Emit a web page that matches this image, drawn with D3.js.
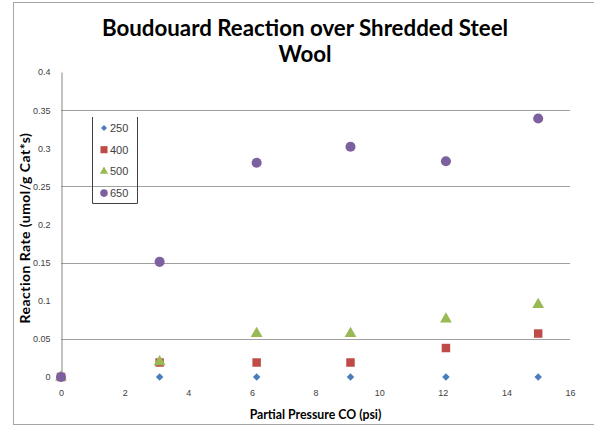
<!DOCTYPE html>
<meta charset="utf-8">
<style>
  body { margin: 0; background: #fff; }
  .tick text { font: 9px "Liberation Sans", sans-serif; fill: #404040; }
  .title { font: bold 22.3px Lato, sans-serif; fill: #000; }
  .axis-title { font: bold 12.3px Lato, sans-serif; fill: #000; }
  .axis-title.y { font-size: 14px; letter-spacing: 0.45px; }
  .legend text { font: 11px "Liberation Sans", sans-serif; fill: #404040; }
</style>
<body>
<script src="https://d3js.org/d3.v7.min.js"></script>
<script>

  // Partial pressure CO (psi)
  var pressure = [0, 3.1, 6.15, 9.1, 12.1, 15];

  // reaction rate per temperature series
  var rate250 = [0, 0, 0, 0, 0, 0];
  var rate400 = [0, 0.019, 0.019, 0.019, 0.038, 0.057];
  var rate500 = [0, 0.020, 0.057, 0.057, 0.076, 0.095];
  var rate650 = [0, 0.151, 0.281, 0.302, 0.283, 0.339];

  var seriesNames = ["250", "400", "500", "650"];
  var xTicks = [0, 2, 4, 6, 8, 10, 12, 14, 16];
  var yTicks = [0, 0.05, 0.1, 0.15, 0.2, 0.25, 0.3, 0.35, 0.4];
  var gridValues = [0.05, 0.15, 0.25, 0.35];

  var series = [
    {name: seriesNames[0], values: rate250, color: "#4a7ebb", shape: "diamond"},
    {name: seriesNames[1], values: rate400, color: "#be4b48", shape: "square"},
    {name: seriesNames[2], values: rate500, color: "#98b954", shape: "triangle"},
    {name: seriesNames[3], values: rate650, color: "#7d60a0", shape: "circle"}
  ];

  var width = 594, height = 427;

  var x = d3.scaleLinear().domain([0, 16]).range([61, 570]);
  var y = d3.scaleLinear().domain([0, 0.4]).range([377, 72]);

  var svg = d3.select("body").append("svg")
      .attr("width", width)
      .attr("height", height);

  // outer chart border
  svg.append("rect")
      .attr("x", 13.5).attr("y", 2.5)
      .attr("width", 600).attr("height", 422)
      .attr("fill", "none")
      .attr("stroke", "#a6a6a6");

  // gridlines
  svg.append("g").selectAll("line")
      .data(gridValues)
    .enter().append("line")
      .attr("x1", x(0)).attr("x2", x(16))
      .attr("y1", function(d) { return Math.round(y(d)) + 0.5; })
      .attr("y2", function(d) { return Math.round(y(d)) + 0.5; })
      .attr("stroke", "#a0a0a0");

  var yAxis = svg.append("g")
      .attr("transform", "translate(" + (x(0) + 0.5) + ",0)")
      .call(d3.axisLeft(y).tickValues(yTicks).tickSize(0).tickPadding(11)
        .tickFormat(d3.format(".2~f")));
  yAxis.select(".domain").attr("stroke", "#868686");

  var xAxis = svg.append("g")
      .attr("transform", "translate(0," + y(0) + ")")
      .call(d3.axisBottom(x).tickValues(xTicks).tickSize(0).tickPadding(13));
  xAxis.select(".domain").remove();

  // diamonds are squares turned 45 degrees
  var symbols = {
    diamond: d3.symbol().type(d3.symbolSquare).size(28),
    square: d3.symbol().type(d3.symbolSquare).size(72),
    triangle: d3.symbol().type(d3.symbolTriangle).size(60),
    circle: d3.symbol().type(d3.symbolCircle).size(80)
  };

  series.forEach(function(s) {
    svg.append("g").selectAll("path")
        .data(s.values)
      .enter().append("path")
        .attr("d", symbols[s.shape]())
        .attr("transform", function(d, i) {
          return "translate(" + x(pressure[i]) + "," + y(d) + ")" +
            (s.shape == "diamond" ? " rotate(45)" : "");
        })
        .attr("fill", s.color);
  });

  // legend
  var legend = svg.append("g").attr("class", "legend");
  legend.append("path")
      .attr("d", "M92.5,117V203.5H137.5V117")
      .attr("fill", "none")
      .attr("stroke", "#404040");

  var legendSymbols = {
    diamond: d3.symbol().type(d3.symbolSquare).size(18),
    square: d3.symbol().type(d3.symbolSquare).size(50),
    triangle: d3.symbol().type(d3.symbolTriangle).size(30),
    circle: d3.symbol().type(d3.symbolCircle).size(45)
  };

  var item = legend.selectAll("g.item")
      .data(series)
    .enter().append("g")
      .attr("class", "item")
      .attr("transform", function(d, i) { return "translate(104," + (128 + i * 21.7) + ")"; });
  item.append("path")
      .attr("d", function(d) { return legendSymbols[d.shape](); })
      .attr("transform", function(d) { return d.shape == "diamond" ? "rotate(45)" : null; })
      .attr("fill", function(d) { return d.color; });
  item.append("text")
      .attr("x", 6)
      .attr("dy", "0.35em")
      .text(function(d) { return d.name; });

  // titles
  svg.append("text")
      .attr("class", "title")
      .attr("x", 305).attr("y", 36)
      .attr("text-anchor", "middle")
      .text("Boudouard Reaction over Shredded Steel");
  svg.append("text")
      .attr("class", "title")
      .attr("x", 305).attr("y", 62)
      .attr("text-anchor", "middle")
      .text("Wool");

  svg.append("text")
      .attr("class", "axis-title")
      .attr("x", x(8)).attr("y", 419)
      .attr("text-anchor", "middle")
      .text("Partial Pressure CO (psi)");

  svg.append("text")
      .attr("class", "axis-title y")
      .attr("transform", "translate(30,228) rotate(-90)")
      .attr("text-anchor", "middle")
      .text("Reaction Rate (umol/g Cat*s)");

</script>
